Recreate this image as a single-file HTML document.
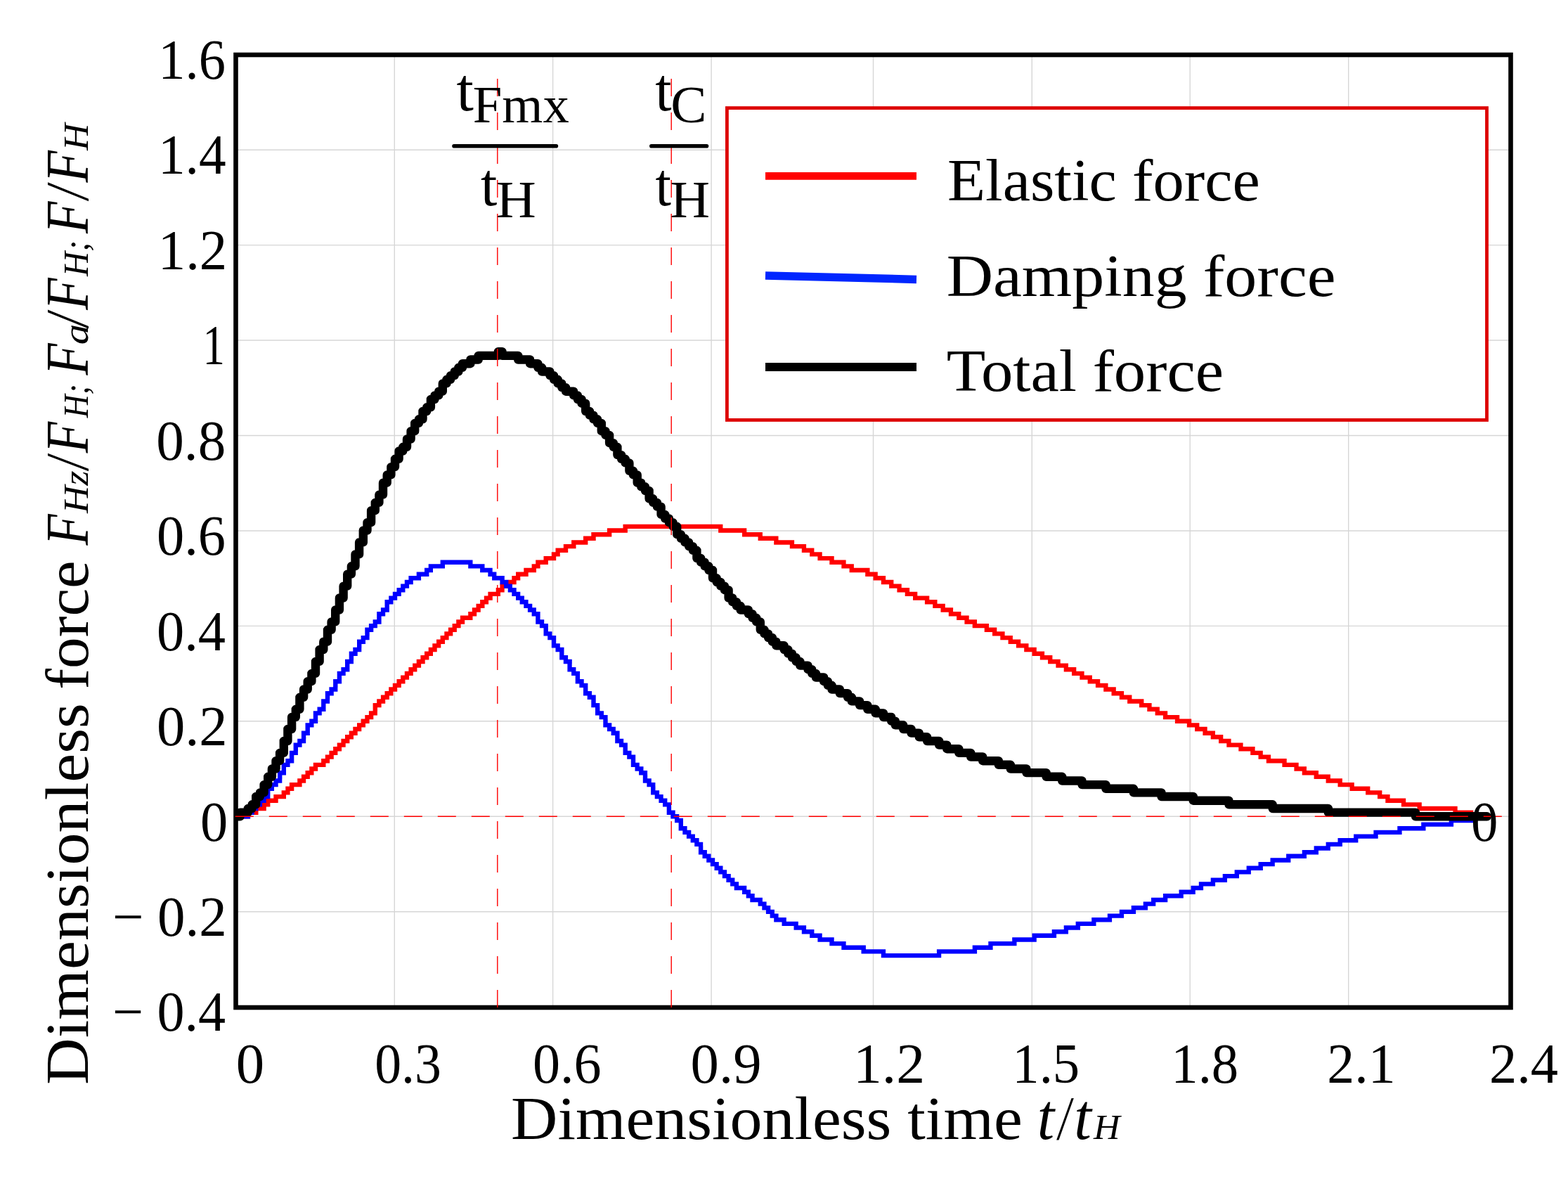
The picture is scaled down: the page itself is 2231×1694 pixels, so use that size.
<!DOCTYPE html>
<html><head><meta charset="utf-8"><title>Dimensionless force vs time</title>
<style>
html,body{margin:0;padding:0;background:#fff;}
body{width:2231px;height:1694px;overflow:hidden;}
svg{display:block;}
text{font-family:'Liberation Serif', 'Times New Roman', serif;fill:#000;}
</style></head><body>
<svg width="2231" height="1694" viewBox="0 0 2231 1694">
<rect x="0" y="0" width="2231" height="1694" fill="#fff"/>

<g stroke="#d6d6d6" stroke-width="1.4" fill="none"><line x1="561.3" y1="78" x2="561.3" y2="1433"/><line x1="786.6" y1="78" x2="786.6" y2="1433"/><line x1="1012.1" y1="78" x2="1012.1" y2="1433"/><line x1="1242.5" y1="78" x2="1242.5" y2="1433"/><line x1="1468.3" y1="78" x2="1468.3" y2="1433"/><line x1="1693.2" y1="78" x2="1693.2" y2="1433"/><line x1="1918.7" y1="78" x2="1918.7" y2="1433"/><line x1="335.5" y1="1296.8" x2="2149.5" y2="1296.8"/><line x1="335.5" y1="1161.3" x2="2149.5" y2="1161.3"/><line x1="335.5" y1="1025.8" x2="2149.5" y2="1025.8"/><line x1="335.5" y1="890.4" x2="2149.5" y2="890.4"/><line x1="335.5" y1="755.0" x2="2149.5" y2="755.0"/><line x1="335.5" y1="619.5" x2="2149.5" y2="619.5"/><line x1="335.5" y1="484.0" x2="2149.5" y2="484.0"/><line x1="335.5" y1="348.6" x2="2149.5" y2="348.6"/><line x1="335.5" y1="213.2" x2="2149.5" y2="213.2"/></g>
<defs><clipPath id="pa"><rect x="336" y="78" width="1813" height="1355"/></clipPath></defs>
<g clip-path="url(#pa)">
<path d="M886.5,745.7h141.9v6.4h-141.9zM863.9,751.3h29.0v6.4h-29.0zM1022.1,751.3h40.2v6.4h-40.2zM841.3,757.0h29.0v6.4h-29.0zM1056.0,757.0h28.9v6.4h-28.9zM830.0,762.6h17.7v6.4h-17.7zM1078.6,762.6h28.9v6.4h-28.9zM813.1,768.3h23.3v6.4h-23.3zM1101.2,768.3h28.9v6.4h-28.9zM801.8,773.9h17.7v6.4h-17.7zM1123.8,773.9h23.3v6.4h-23.3zM790.5,779.6h17.7v6.4h-17.7zM1140.8,779.6h17.6v6.4h-17.6zM784.8,785.2h12.0v6.4h-12.0zM1152.1,785.2h17.6v6.4h-17.6zM773.5,790.9h17.7v6.4h-17.7zM1163.4,790.9h23.3v6.4h-23.3zM762.2,796.5h17.7v6.4h-17.7zM1180.3,796.5h23.3v6.4h-23.3zM756.6,802.2h12.0v6.4h-12.0zM1197.3,802.2h17.6v6.4h-17.6zM745.3,807.8h17.7v6.4h-17.7zM1208.6,807.8h28.9v6.4h-28.9zM734.0,813.5h17.7v6.4h-17.7zM1231.2,813.5h17.6v6.4h-17.6zM728.3,819.1h12.0v6.4h-12.0zM1242.5,819.1h17.6v6.4h-17.6zM722.7,824.8h12.0v6.4h-12.0zM1253.8,824.8h17.6v6.4h-17.6zM711.4,830.4h17.6v6.4h-17.6zM1265.1,830.4h17.6v6.4h-17.6zM705.7,836.1h12.0v6.4h-12.0zM1276.4,836.1h17.7v6.4h-17.7zM694.4,841.7h17.6v6.4h-17.6zM1287.7,841.7h17.6v6.4h-17.6zM688.8,847.4h12.0v6.4h-12.0zM1299.0,847.4h23.3v6.4h-23.3zM683.1,853.0h12.0v6.4h-12.0zM1315.9,853.0h17.6v6.4h-17.6zM677.5,858.7h12.0v6.4h-12.0zM1327.2,858.7h17.6v6.4h-17.6zM671.8,864.3h12.0v6.4h-12.0zM1338.5,864.3h17.6v6.4h-17.6zM666.2,870.0h12.0v6.4h-12.0zM1349.8,870.0h17.6v6.4h-17.6zM654.9,875.6h17.6v6.4h-17.6zM1361.1,875.6h17.6v6.4h-17.6zM649.2,881.3h12.0v6.4h-12.0zM1372.4,881.3h17.6v6.4h-17.6zM643.6,886.9h12.0v6.4h-12.0zM1383.7,886.9h23.3v6.4h-23.3zM637.9,892.6h12.0v6.4h-12.0zM1400.7,892.6h17.6v6.4h-17.6zM632.3,898.2h12.0v6.4h-12.0zM1412.0,898.2h17.6v6.4h-17.6zM626.6,903.9h12.0v6.4h-12.0zM1423.3,903.9h17.6v6.4h-17.6zM621.0,909.5h12.0v6.4h-12.0zM1434.6,909.5h17.6v6.4h-17.6zM615.3,915.2h12.0v6.4h-12.0zM1445.9,915.2h17.6v6.4h-17.6zM609.7,920.8h12.0v6.4h-12.0zM1457.2,920.8h17.6v6.4h-17.6zM604.0,926.5h12.0v6.4h-12.0zM1468.5,926.5h17.6v6.4h-17.6zM598.4,932.1h12.0v6.4h-12.0zM1479.8,932.1h17.6v6.4h-17.6zM592.7,937.8h12.0v6.4h-12.0zM1491.1,937.8h17.6v6.4h-17.6zM587.1,943.4h12.0v6.4h-12.0zM1502.4,943.4h17.6v6.4h-17.6zM581.4,949.1h12.0v6.4h-12.0zM1513.7,949.1h17.6v6.4h-17.6zM575.8,954.7h12.0v6.4h-12.0zM1525.0,954.7h17.6v6.4h-17.6zM570.1,960.4h12.0v6.4h-12.0zM1536.3,960.4h17.6v6.4h-17.6zM564.5,966.0h12.0v6.4h-12.0zM1547.6,966.0h17.6v6.4h-17.6zM558.8,971.7h12.0v6.4h-12.0zM1558.9,971.7h17.6v6.4h-17.6zM553.2,977.3h12.0v6.4h-12.0zM1570.2,977.3h17.6v6.4h-17.6zM547.5,983.0h12.0v6.4h-12.0zM1581.5,983.0h17.6v6.4h-17.6zM541.9,988.6h12.0v6.4h-12.0zM1592.8,988.6h17.6v6.4h-17.6zM536.2,994.3h12.0v6.4h-12.0zM1604.1,994.3h23.3v6.4h-23.3zM530.6,999.9h12.0v6.4h-12.0zM1621.0,999.9h17.6v6.4h-17.6zM530.6,1005.6h6.4v6.4h-6.4zM1632.3,1005.6h17.6v6.4h-17.6zM524.9,1011.2h12.0v6.4h-12.0zM1643.6,1011.2h17.6v6.4h-17.6zM519.3,1016.9h12.0v6.4h-12.0zM1654.9,1016.9h23.3v6.4h-23.3zM513.6,1022.5h12.0v6.4h-12.0zM1671.9,1022.5h23.3v6.4h-23.3zM508.0,1028.2h12.0v6.4h-12.0zM1688.8,1028.2h17.6v6.4h-17.6zM502.3,1033.8h12.0v6.4h-12.0zM1700.1,1033.8h17.6v6.4h-17.6zM496.7,1039.5h12.0v6.4h-12.0zM1711.4,1039.5h17.6v6.4h-17.6zM491.0,1045.1h12.0v6.4h-12.0zM1722.7,1045.1h17.6v6.4h-17.6zM485.4,1050.8h12.0v6.4h-12.0zM1734.0,1050.8h17.6v6.4h-17.6zM479.7,1056.4h12.0v6.4h-12.0zM1745.3,1056.4h23.3v6.4h-23.3zM474.1,1062.1h12.0v6.4h-12.0zM1762.3,1062.1h23.3v6.4h-23.3zM468.4,1067.7h12.0v6.4h-12.0zM1779.2,1067.7h17.6v6.4h-17.6zM462.8,1073.4h12.0v6.4h-12.0zM1790.5,1073.4h17.6v6.4h-17.6zM457.1,1079.0h12.0v6.4h-12.0zM1801.8,1079.0h28.9v6.4h-28.9zM445.8,1084.7h17.7v6.4h-17.7zM1824.4,1084.7h23.3v6.4h-23.3zM440.2,1090.3h12.0v6.4h-12.0zM1841.4,1090.3h17.6v6.4h-17.6zM434.5,1096.0h12.0v6.4h-12.0zM1852.7,1096.0h23.3v6.4h-23.3zM428.9,1101.6h12.0v6.4h-12.0zM1869.6,1101.6h23.3v6.4h-23.3zM423.2,1107.3h12.0v6.4h-12.0zM1886.6,1107.3h23.3v6.4h-23.3zM411.9,1112.9h17.7v6.4h-17.7zM1903.5,1112.9h23.3v6.4h-23.3zM406.3,1118.6h12.0v6.4h-12.0zM1920.5,1118.6h28.9v6.4h-28.9zM400.6,1124.2h12.0v6.4h-12.0zM1943.1,1124.2h23.3v6.4h-23.3zM389.3,1129.9h17.7v6.4h-17.7zM1960.0,1129.9h17.6v6.4h-17.6zM378.0,1135.5h17.7v6.4h-17.7zM1971.3,1135.5h28.9v6.4h-28.9zM372.4,1141.2h12.0v6.4h-12.0zM1993.9,1141.2h28.9v6.4h-28.9zM361.1,1146.8h17.7v6.4h-17.7zM2016.5,1146.8h57.2v6.4h-57.2zM349.8,1152.5h17.7v6.4h-17.7zM2067.4,1152.5h28.9v6.4h-28.9zM332.8,1158.1h23.3v6.4h-23.3z" fill="#ff0000"/>
<path d="M626.6,796.5h45.9v6.4h-45.9zM609.7,802.2h23.3v6.4h-23.3zM666.2,802.2h23.3v6.4h-23.3zM604.0,807.8h12.0v6.4h-12.0zM683.1,807.8h17.6v6.4h-17.6zM592.7,813.5h17.7v6.4h-17.7zM694.4,813.5h12.0v6.4h-12.0zM581.4,819.1h17.7v6.4h-17.7zM700.1,819.1h17.7v6.4h-17.7zM575.8,824.8h12.0v6.4h-12.0zM711.4,824.8h12.0v6.4h-12.0zM570.1,830.4h12.0v6.4h-12.0zM717.0,830.4h12.0v6.4h-12.0zM564.5,836.1h12.0v6.4h-12.0zM722.7,836.1h12.0v6.4h-12.0zM558.8,841.7h12.0v6.4h-12.0zM728.3,841.7h12.0v6.4h-12.0zM553.2,847.4h12.0v6.4h-12.0zM734.0,847.4h12.0v6.4h-12.0zM547.5,853.0h12.0v6.4h-12.0zM739.6,853.0h12.0v6.4h-12.0zM547.5,858.7h6.4v6.4h-6.4zM745.3,858.7h12.0v6.4h-12.0zM541.9,864.3h12.0v6.4h-12.0zM750.9,864.3h12.0v6.4h-12.0zM536.2,870.0h12.0v6.4h-12.0zM756.6,870.0h12.0v6.4h-12.0zM536.2,875.6h6.4v6.4h-6.4zM762.2,875.6h6.4v6.4h-6.4zM530.6,881.3h12.0v6.4h-12.0zM762.2,881.3h12.0v6.4h-12.0zM524.9,886.9h12.0v6.4h-12.0zM767.9,886.9h12.0v6.4h-12.0zM519.3,892.6h12.0v6.4h-12.0zM773.5,892.6h6.4v6.4h-6.4zM519.3,898.2h6.4v6.4h-6.4zM773.5,898.2h12.0v6.4h-12.0zM513.6,903.9h12.0v6.4h-12.0zM779.2,903.9h12.0v6.4h-12.0zM508.0,909.5h12.0v6.4h-12.0zM784.8,909.5h6.4v6.4h-6.4zM508.0,915.2h6.4v6.4h-6.4zM784.8,915.2h12.0v6.4h-12.0zM502.3,920.8h12.0v6.4h-12.0zM790.5,920.8h12.0v6.4h-12.0zM496.7,926.5h12.0v6.4h-12.0zM796.1,926.5h6.4v6.4h-6.4zM496.7,932.1h6.4v6.4h-6.4zM796.1,932.1h12.0v6.4h-12.0zM491.0,937.8h12.0v6.4h-12.0zM801.8,937.8h12.0v6.4h-12.0zM491.0,943.4h6.4v6.4h-6.4zM807.4,943.4h6.3v6.4h-6.3zM485.4,949.1h12.0v6.4h-12.0zM807.4,949.1h12.0v6.4h-12.0zM479.7,954.7h12.0v6.4h-12.0zM813.1,954.7h12.0v6.4h-12.0zM479.7,960.4h6.4v6.4h-6.4zM818.7,960.4h6.4v6.4h-6.4zM474.1,966.0h12.0v6.4h-12.0zM818.7,966.0h12.0v6.4h-12.0zM474.1,971.7h6.4v6.4h-6.4zM824.4,971.7h12.0v6.4h-12.0zM468.4,977.3h12.0v6.4h-12.0zM830.0,977.3h6.4v6.4h-6.4zM462.8,983.0h12.0v6.4h-12.0zM830.0,983.0h12.0v6.4h-12.0zM462.8,988.6h6.4v6.4h-6.4zM835.7,988.6h12.0v6.4h-12.0zM457.1,994.3h12.0v6.4h-12.0zM841.3,994.3h6.4v6.4h-6.4zM457.1,999.9h6.4v6.4h-6.4zM841.3,999.9h12.0v6.4h-12.0zM451.5,1005.6h12.0v6.4h-12.0zM847.0,1005.6h6.4v6.4h-6.4zM445.8,1011.2h12.0v6.4h-12.0zM847.0,1011.2h12.0v6.4h-12.0zM445.8,1016.9h6.4v6.4h-6.4zM852.6,1016.9h12.0v6.4h-12.0zM440.2,1022.5h12.0v6.4h-12.0zM858.3,1022.5h6.4v6.4h-6.4zM434.5,1028.2h12.0v6.4h-12.0zM858.3,1028.2h12.0v6.4h-12.0zM434.5,1033.8h6.4v6.4h-6.4zM863.9,1033.8h12.0v6.4h-12.0zM428.9,1039.5h12.0v6.4h-12.0zM869.6,1039.5h12.0v6.4h-12.0zM428.9,1045.1h6.4v6.4h-6.4zM875.2,1045.1h6.4v6.4h-6.4zM423.2,1050.8h12.0v6.4h-12.0zM875.2,1050.8h12.0v6.4h-12.0zM417.6,1056.4h12.0v6.4h-12.0zM880.9,1056.4h12.0v6.4h-12.0zM417.6,1062.1h6.4v6.4h-6.4zM886.5,1062.1h6.4v6.4h-6.4zM411.9,1067.7h12.0v6.4h-12.0zM886.5,1067.7h12.0v6.4h-12.0zM411.9,1073.4h6.4v6.4h-6.4zM892.2,1073.4h12.0v6.4h-12.0zM406.3,1079.0h12.0v6.4h-12.0zM897.8,1079.0h6.4v6.4h-6.4zM400.6,1084.7h12.0v6.4h-12.0zM897.8,1084.7h12.0v6.4h-12.0zM400.6,1090.3h6.4v6.4h-6.4zM903.5,1090.3h12.0v6.4h-12.0zM395.0,1096.0h12.0v6.4h-12.0zM909.1,1096.0h12.0v6.4h-12.0zM395.0,1101.6h6.4v6.4h-6.4zM914.8,1101.6h6.4v6.4h-6.4zM389.3,1107.3h12.0v6.4h-12.0zM914.8,1107.3h12.0v6.4h-12.0zM383.7,1112.9h12.0v6.4h-12.0zM920.4,1112.9h12.0v6.4h-12.0zM378.0,1118.6h12.0v6.4h-12.0zM926.1,1118.6h6.4v6.4h-6.4zM378.0,1124.2h6.4v6.4h-6.4zM926.1,1124.2h12.0v6.4h-12.0zM372.4,1129.9h12.0v6.4h-12.0zM931.7,1129.9h12.0v6.4h-12.0zM366.7,1135.5h12.0v6.4h-12.0zM937.4,1135.5h12.0v6.4h-12.0zM361.1,1141.2h12.0v6.4h-12.0zM943.0,1141.2h12.0v6.4h-12.0zM355.4,1146.8h12.0v6.4h-12.0zM948.7,1146.8h6.4v6.4h-6.4zM349.8,1152.5h12.0v6.4h-12.0zM948.7,1152.5h12.0v6.4h-12.0zM332.8,1158.1h23.3v6.4h-23.3zM954.3,1158.1h12.0v6.4h-12.0zM960.0,1163.8h12.0v6.4h-12.0zM2061.7,1163.8h34.6v6.4h-34.6zM965.6,1169.4h6.4v6.4h-6.4zM2022.2,1169.4h45.9v6.4h-45.9zM965.6,1175.1h12.0v6.4h-12.0zM1988.3,1175.1h40.2v6.4h-40.2zM971.3,1180.7h12.0v6.4h-12.0zM1954.4,1180.7h40.2v6.4h-40.2zM976.9,1186.4h12.0v6.4h-12.0zM1926.1,1186.4h34.6v6.4h-34.6zM982.6,1192.0h12.0v6.4h-12.0zM1903.5,1192.0h28.9v6.4h-28.9zM988.2,1197.7h12.0v6.4h-12.0zM1886.6,1197.7h23.3v6.4h-23.3zM993.9,1203.3h6.4v6.4h-6.4zM1869.6,1203.3h23.3v6.4h-23.3zM993.9,1209.0h12.0v6.4h-12.0zM1852.7,1209.0h23.3v6.4h-23.3zM999.5,1214.6h12.0v6.4h-12.0zM1830.1,1214.6h28.9v6.4h-28.9zM1005.2,1220.3h12.0v6.4h-12.0zM1807.5,1220.3h28.9v6.4h-28.9zM1010.8,1225.9h12.0v6.4h-12.0zM1790.5,1225.9h23.3v6.4h-23.3zM1016.5,1231.6h12.0v6.4h-12.0zM1773.6,1231.6h23.3v6.4h-23.3zM1022.1,1237.2h12.0v6.4h-12.0zM1756.6,1237.2h23.3v6.4h-23.3zM1027.8,1242.9h12.0v6.4h-12.0zM1739.7,1242.9h23.3v6.4h-23.3zM1033.4,1248.5h12.0v6.4h-12.0zM1722.7,1248.5h23.3v6.4h-23.3zM1039.1,1254.2h12.0v6.4h-12.0zM1705.8,1254.2h23.3v6.4h-23.3zM1044.7,1259.8h17.6v6.4h-17.6zM1694.5,1259.8h17.6v6.4h-17.6zM1056.0,1265.5h12.0v6.4h-12.0zM1677.5,1265.5h23.3v6.4h-23.3zM1061.7,1271.1h12.0v6.4h-12.0zM1654.9,1271.1h28.9v6.4h-28.9zM1067.3,1276.8h17.6v6.4h-17.6zM1638.0,1276.8h23.3v6.4h-23.3zM1078.6,1282.4h12.0v6.4h-12.0zM1626.7,1282.4h17.6v6.4h-17.6zM1084.3,1288.1h12.0v6.4h-12.0zM1609.7,1288.1h23.3v6.4h-23.3zM1089.9,1293.7h12.0v6.4h-12.0zM1592.8,1293.7h23.3v6.4h-23.3zM1095.6,1299.4h12.0v6.4h-12.0zM1575.8,1299.4h23.3v6.4h-23.3zM1101.2,1305.0h17.6v6.4h-17.6zM1553.2,1305.0h28.9v6.4h-28.9zM1112.5,1310.7h23.3v6.4h-23.3zM1530.6,1310.7h28.9v6.4h-28.9zM1129.5,1316.3h17.6v6.4h-17.6zM1513.7,1316.3h23.3v6.4h-23.3zM1140.8,1322.0h17.6v6.4h-17.6zM1496.7,1322.0h23.3v6.4h-23.3zM1152.1,1327.6h17.6v6.4h-17.6zM1468.5,1327.6h34.6v6.4h-34.6zM1163.4,1333.3h23.3v6.4h-23.3zM1440.2,1333.3h34.6v6.4h-34.6zM1180.3,1338.9h23.3v6.4h-23.3zM1406.3,1338.9h40.2v6.4h-40.2zM1197.3,1344.6h34.6v6.4h-34.6zM1383.7,1344.6h28.9v6.4h-28.9zM1225.5,1350.2h34.6v6.4h-34.6zM1332.9,1350.2h57.2v6.4h-57.2zM1253.8,1355.9h85.4v6.4h-85.4z" fill="#0000ff"/>
<path d="M336.0,1161.3L341.6,1161.3L341.6,1155.6L352.9,1155.6L352.9,1150.0L358.6,1150.0L358.6,1144.3L364.2,1144.3L364.2,1133.0L369.9,1133.0L369.9,1127.4L375.6,1127.4L375.6,1116.1L381.2,1116.1L381.2,1104.8L386.9,1104.8L386.9,1093.5L392.5,1093.5L392.5,1082.2L398.1,1082.2L398.1,1070.9L403.8,1070.9L403.8,1054.0L409.4,1054.0L409.4,1037.0L415.1,1037.0L415.1,1020.0L420.8,1020.0L420.8,1008.8L426.4,1008.8L426.4,991.8L432.1,991.8L432.1,980.5L437.7,980.5L437.7,969.2L443.4,969.2L443.4,957.9L449.0,957.9L449.0,940.9L454.6,940.9L454.6,924.0L460.3,924.0L460.3,912.7L466.0,912.7L466.0,895.8L471.6,895.8L471.6,884.4L477.2,884.4L477.2,867.5L482.9,867.5L482.9,850.5L488.6,850.5L488.6,833.6L494.2,833.6L494.2,816.6L499.9,816.6L499.9,805.3L505.5,805.3L505.5,788.4L511.1,788.4L511.1,771.4L516.8,771.4L516.8,754.5L522.5,754.5L522.5,743.2L528.1,743.2L528.1,726.2L533.8,726.2L533.8,714.9L539.4,714.9L539.4,703.6L545.0,703.6L545.0,686.7L550.7,686.7L550.7,675.4L556.4,675.4L556.4,664.1L562.0,664.1L562.0,652.8L567.6,652.8L567.6,641.5L573.3,641.5L573.3,635.8L579.0,635.8L579.0,624.5L584.6,624.5L584.6,613.2L590.2,613.2L590.2,601.9L595.9,601.9L595.9,596.3L601.5,596.3L601.5,585.0L607.2,585.0L607.2,579.3L612.9,579.3L612.9,568.0L618.5,568.0L618.5,562.4L624.2,562.4L624.2,556.7L629.8,556.7L629.8,545.4L635.5,545.4L635.5,539.8L641.1,539.8L641.1,534.1L646.8,534.1L646.8,528.5L652.4,528.5L652.4,522.8L658.0,522.8L658.0,517.2L669.4,517.2L669.4,511.5L680.7,511.5L680.7,505.9L708.9,505.9L708.9,500.2L714.5,500.2L714.5,505.9L737.2,505.9L737.2,511.5L754.1,511.5L754.1,517.2L765.4,517.2L765.4,522.8L771.0,522.8L771.0,528.5L782.4,528.5L782.4,534.1L788.0,534.1L788.0,539.8L793.7,539.8L793.7,545.4L799.3,545.4L799.3,551.1L805.0,551.1L805.0,556.7L816.2,556.7L816.2,562.4L821.9,562.4L821.9,568.0L827.5,568.0L827.5,573.7L833.2,573.7L833.2,585.0L838.9,585.0L838.9,590.6L844.5,590.6L844.5,596.3L850.1,596.3L850.1,601.9L855.8,601.9L855.8,613.2L861.5,613.2L861.5,618.9L867.1,618.9L867.1,630.2L872.8,630.2L872.8,635.8L878.4,635.8L878.4,647.1L884.1,647.1L884.1,652.8L889.7,652.8L889.7,658.4L895.4,658.4L895.4,669.8L901.0,669.8L901.0,675.4L906.7,675.4L906.7,686.7L912.3,686.7L912.3,692.3L918.0,692.3L918.0,698.0L923.6,698.0L923.6,709.3L929.2,709.3L929.2,714.9L934.9,714.9L934.9,720.6L940.6,720.6L940.6,731.9L946.2,731.9L946.2,737.5L951.9,737.5L951.9,743.2L957.5,743.2L957.5,748.8L963.2,748.8L963.2,760.1L968.8,760.1L968.8,765.8L974.5,765.8L974.5,771.4L980.1,771.4L980.1,777.1L985.8,777.1L985.8,782.8L991.4,782.8L991.4,794.0L997.1,794.0L997.1,799.7L1002.7,799.7L1002.7,805.3L1008.4,805.3L1008.4,811.0L1014.0,811.0L1014.0,822.3L1019.7,822.3L1019.7,827.9L1025.3,827.9L1025.3,833.6L1031.0,833.6L1031.0,839.2L1036.6,839.2L1036.6,850.5L1042.2,850.5L1042.2,856.2L1047.9,856.2L1047.9,861.8L1053.6,861.8L1053.6,867.5L1064.8,867.5L1064.8,873.1L1070.5,873.1L1070.5,878.8L1076.2,878.8L1076.2,884.4L1081.8,884.4L1081.8,895.8L1087.5,895.8L1087.5,901.4L1093.1,901.4L1093.1,907.0L1098.8,907.0L1098.8,912.7L1104.4,912.7L1104.4,918.3L1115.7,918.3L1115.7,924.0L1121.3,924.0L1121.3,929.6L1127.0,929.6L1127.0,935.3L1132.7,935.3L1132.7,940.9L1138.3,940.9L1138.3,946.6L1149.6,946.6L1149.6,952.2L1155.2,952.2L1155.2,957.9L1160.9,957.9L1160.9,963.5L1172.2,963.5L1172.2,969.2L1177.8,969.2L1177.8,974.8L1183.5,974.8L1183.5,980.5L1194.8,980.5L1194.8,986.1L1206.1,986.1L1206.1,991.8L1211.8,991.8L1211.8,997.4L1223.1,997.4L1223.1,1003.1L1234.3,1003.1L1234.3,1008.8L1245.7,1008.8L1245.7,1014.4L1257.0,1014.4L1257.0,1020.0L1268.2,1020.0L1268.2,1025.7L1273.9,1025.7L1273.9,1031.3L1285.2,1031.3L1285.2,1037.0L1296.5,1037.0L1296.5,1042.6L1307.8,1042.6L1307.8,1048.3L1319.1,1048.3L1319.1,1054.0L1336.1,1054.0L1336.1,1059.6L1347.3,1059.6L1347.3,1065.2L1364.3,1065.2L1364.3,1070.9L1381.2,1070.9L1381.2,1076.5L1398.2,1076.5L1398.2,1082.2L1420.8,1082.2L1420.8,1087.8L1437.8,1087.8L1437.8,1093.5L1460.4,1093.5L1460.4,1099.1L1488.6,1099.1L1488.6,1104.8L1511.2,1104.8L1511.2,1110.5L1539.5,1110.5L1539.5,1116.1L1573.4,1116.1L1573.4,1121.8L1612.9,1121.8L1612.9,1127.4L1652.5,1127.4L1652.5,1133.0L1697.7,1133.0L1697.7,1138.7L1748.5,1138.7L1748.5,1144.3L1810.7,1144.3L1810.7,1150.0L1889.8,1150.0L1889.8,1155.6L2014.1,1155.6L2014.1,1161.3L2115.8,1161.3" fill="none" stroke="#000" stroke-width="12.4" stroke-linejoin="round" stroke-linecap="round"/>
</g>
<rect x="335.5" y="78" width="1814" height="1355" fill="none" stroke="#000" stroke-width="6.6"/>
<g stroke="#ff0000" stroke-width="1.4" fill="none">
<line x1="334.8" y1="1161.3" x2="2136.8" y2="1161.3" stroke-dasharray="26 22"/>
<line x1="707.8" y1="111.9" x2="707.8" y2="1434" stroke-dasharray="25 23"/>
<line x1="955.2" y1="111.9" x2="955.2" y2="1434" stroke-dasharray="25 23"/>
</g>
<rect x="1034.4" y="153.6" width="1081.1" height="443.8" fill="#fff" stroke="#dd0000" stroke-width="4.8"/>
<line x1="1089" y1="250.4" x2="1304" y2="250.4" stroke="#ff0000" stroke-width="10.8"/>
<line x1="1089" y1="392" x2="1304" y2="397.4" stroke="#0026ff" stroke-width="11.5"/>
<line x1="1089" y1="522" x2="1304" y2="522" stroke="#000" stroke-width="11.8"/>
<text x="1348.0" y="284.8" font-size="85" textLength="444.7" lengthAdjust="spacingAndGlyphs">Elastic force</text>
<text x="1346.7" y="420.8" font-size="85" textLength="553.8" lengthAdjust="spacingAndGlyphs">Damping force</text>
<text x="1346.8" y="555.7" font-size="85" textLength="394.2" lengthAdjust="spacingAndGlyphs">Total force</text>
<text x="159.9" y="1466.4" font-size="80" textLength="161.2" lengthAdjust="spacingAndGlyphs">− 0.4</text>
<text x="159.9" y="1331.0" font-size="80" textLength="162.8" lengthAdjust="spacingAndGlyphs">− 0.2</text>
<text x="285.0" y="1195.5" font-size="80" textLength="39.2" lengthAdjust="spacingAndGlyphs">0</text>
<text x="222.9" y="1060.0" font-size="80" textLength="100.8" lengthAdjust="spacingAndGlyphs">0.2</text>
<text x="223.0" y="924.6" font-size="80" textLength="98.0" lengthAdjust="spacingAndGlyphs">0.4</text>
<text x="223.0" y="789.2" font-size="80" textLength="98.0" lengthAdjust="spacingAndGlyphs">0.6</text>
<text x="222.3" y="653.7" font-size="80" textLength="98.9" lengthAdjust="spacingAndGlyphs">0.8</text>
<text x="288.5" y="518.2" font-size="80" textLength="31.4" lengthAdjust="spacingAndGlyphs">1</text>
<text x="224.8" y="382.8" font-size="80" textLength="98.4" lengthAdjust="spacingAndGlyphs">1.2</text>
<text x="224.9" y="247.4" font-size="80" textLength="96.7" lengthAdjust="spacingAndGlyphs">1.4</text>
<text x="225.3" y="111.9" font-size="80" textLength="95.6" lengthAdjust="spacingAndGlyphs">1.6</text>
<text x="335.7" y="1539.6" font-size="80" textLength="40.4" lengthAdjust="spacingAndGlyphs">0</text>
<text x="533.2" y="1539.6" font-size="80" textLength="94.7" lengthAdjust="spacingAndGlyphs">0.3</text>
<text x="758.0" y="1539.6" font-size="80" textLength="97.7" lengthAdjust="spacingAndGlyphs">0.6</text>
<text x="982.6" y="1539.6" font-size="80" textLength="100.9" lengthAdjust="spacingAndGlyphs">0.9</text>
<text x="1213.9" y="1539.6" font-size="80" textLength="102.1" lengthAdjust="spacingAndGlyphs">1.2</text>
<text x="1440.3" y="1539.6" font-size="80" textLength="95.9" lengthAdjust="spacingAndGlyphs">1.5</text>
<text x="1666.3" y="1539.6" font-size="80" textLength="95.9" lengthAdjust="spacingAndGlyphs">1.8</text>
<text x="1888.3" y="1539.6" font-size="80" textLength="97.3" lengthAdjust="spacingAndGlyphs">2.1</text>
<text x="2119.0" y="1539.6" font-size="80" textLength="98.0" lengthAdjust="spacingAndGlyphs">2.4</text>
<text x="2093.1" y="1195.8" font-size="80" textLength="38.4" lengthAdjust="spacingAndGlyphs">0</text>
<text x="727.0" y="1620.2" font-size="87" textLength="727.7" lengthAdjust="spacingAndGlyphs">Dimensionless time</text>
<text x="1475.7" y="1620.2" font-size="94" font-style="italic" textLength="24.4" lengthAdjust="spacingAndGlyphs">t</text>
<text x="1506.1" y="1620.2" font-size="88" font-style="italic" textLength="17.1" lengthAdjust="spacingAndGlyphs">/</text>
<text x="1528.2" y="1620.2" font-size="94" font-style="italic" textLength="24.6" lengthAdjust="spacingAndGlyphs">t</text>
<text x="1556.0" y="1620.2" font-size="51" font-style="italic" textLength="37.6" lengthAdjust="spacingAndGlyphs">H</text>
<g transform="translate(124.8,0) rotate(-90)"><text x="-1542.9" y="0.0" font-size="87" textLength="542.8" lengthAdjust="spacingAndGlyphs">Dimensionless</text><text x="-980.8" y="0.0" font-size="87" textLength="183.5" lengthAdjust="spacingAndGlyphs">force</text><text x="-775.5" y="0.0" font-size="86" font-style="italic" textLength="44.2" lengthAdjust="spacingAndGlyphs">F</text><text x="-730.0" y="0.0" font-size="51" font-style="italic" textLength="60.5" lengthAdjust="spacingAndGlyphs">Hz</text><text x="-667.3" y="0.0" font-size="86" font-style="italic" textLength="17.6" lengthAdjust="spacingAndGlyphs">/</text><text x="-644.3" y="0.0" font-size="86" font-style="italic" textLength="44.3" lengthAdjust="spacingAndGlyphs">F</text><text x="-594.3" y="0.0" font-size="51" font-style="italic" textLength="48.1" lengthAdjust="spacingAndGlyphs">H;</text><text x="-533.6" y="0.0" font-size="86" font-style="italic" textLength="45.2" lengthAdjust="spacingAndGlyphs">F</text><text x="-490.3" y="0.0" font-size="51" font-style="italic" textLength="29.5" lengthAdjust="spacingAndGlyphs">a</text><text x="-464.4" y="0.0" font-size="86" font-style="italic" textLength="18.8" lengthAdjust="spacingAndGlyphs">/</text><text x="-440.8" y="0.0" font-size="86" font-style="italic" textLength="45.4" lengthAdjust="spacingAndGlyphs">F</text><text x="-393.0" y="0.0" font-size="51" font-style="italic" textLength="51.2" lengthAdjust="spacingAndGlyphs">H;</text><text x="-332.1" y="0.0" font-size="86" font-style="italic" textLength="45.4" lengthAdjust="spacingAndGlyphs">F</text><text x="-283.2" y="0.0" font-size="86" font-style="italic" textLength="18.8" lengthAdjust="spacingAndGlyphs">/</text><text x="-259.6" y="0.0" font-size="86" font-style="italic" textLength="45.3" lengthAdjust="spacingAndGlyphs">F</text><text x="-213.9" y="0.0" font-size="51" font-style="italic" textLength="38.4" lengthAdjust="spacingAndGlyphs">H</text></g>
<text x="649.6" y="157.2" font-size="87" textLength="24.4" lengthAdjust="spacingAndGlyphs">t</text>
<text x="672.7" y="174.3" font-size="74" textLength="137.1" lengthAdjust="spacingAndGlyphs">Fmx</text>
<text x="683.9" y="292.0" font-size="87" textLength="23.3" lengthAdjust="spacingAndGlyphs">t</text>
<text x="705.9" y="308.7" font-size="74" textLength="56.7" lengthAdjust="spacingAndGlyphs">H</text>
<text x="932.3" y="157.2" font-size="87" textLength="23.3" lengthAdjust="spacingAndGlyphs">t</text>
<text x="954.2" y="174.3" font-size="74" textLength="51.2" lengthAdjust="spacingAndGlyphs">C</text>
<text x="932.4" y="292.0" font-size="87" textLength="22.4" lengthAdjust="spacingAndGlyphs">t</text>
<text x="953.4" y="308.7" font-size="74" textLength="56.6" lengthAdjust="spacingAndGlyphs">H</text>
<line x1="646" y1="207.7" x2="791.4" y2="207.7" stroke="#000" stroke-width="5.6" stroke-linecap="round"/>
<line x1="926.8" y1="207.7" x2="1005.5" y2="207.7" stroke="#000" stroke-width="5.6" stroke-linecap="round"/>
</svg></body></html>
